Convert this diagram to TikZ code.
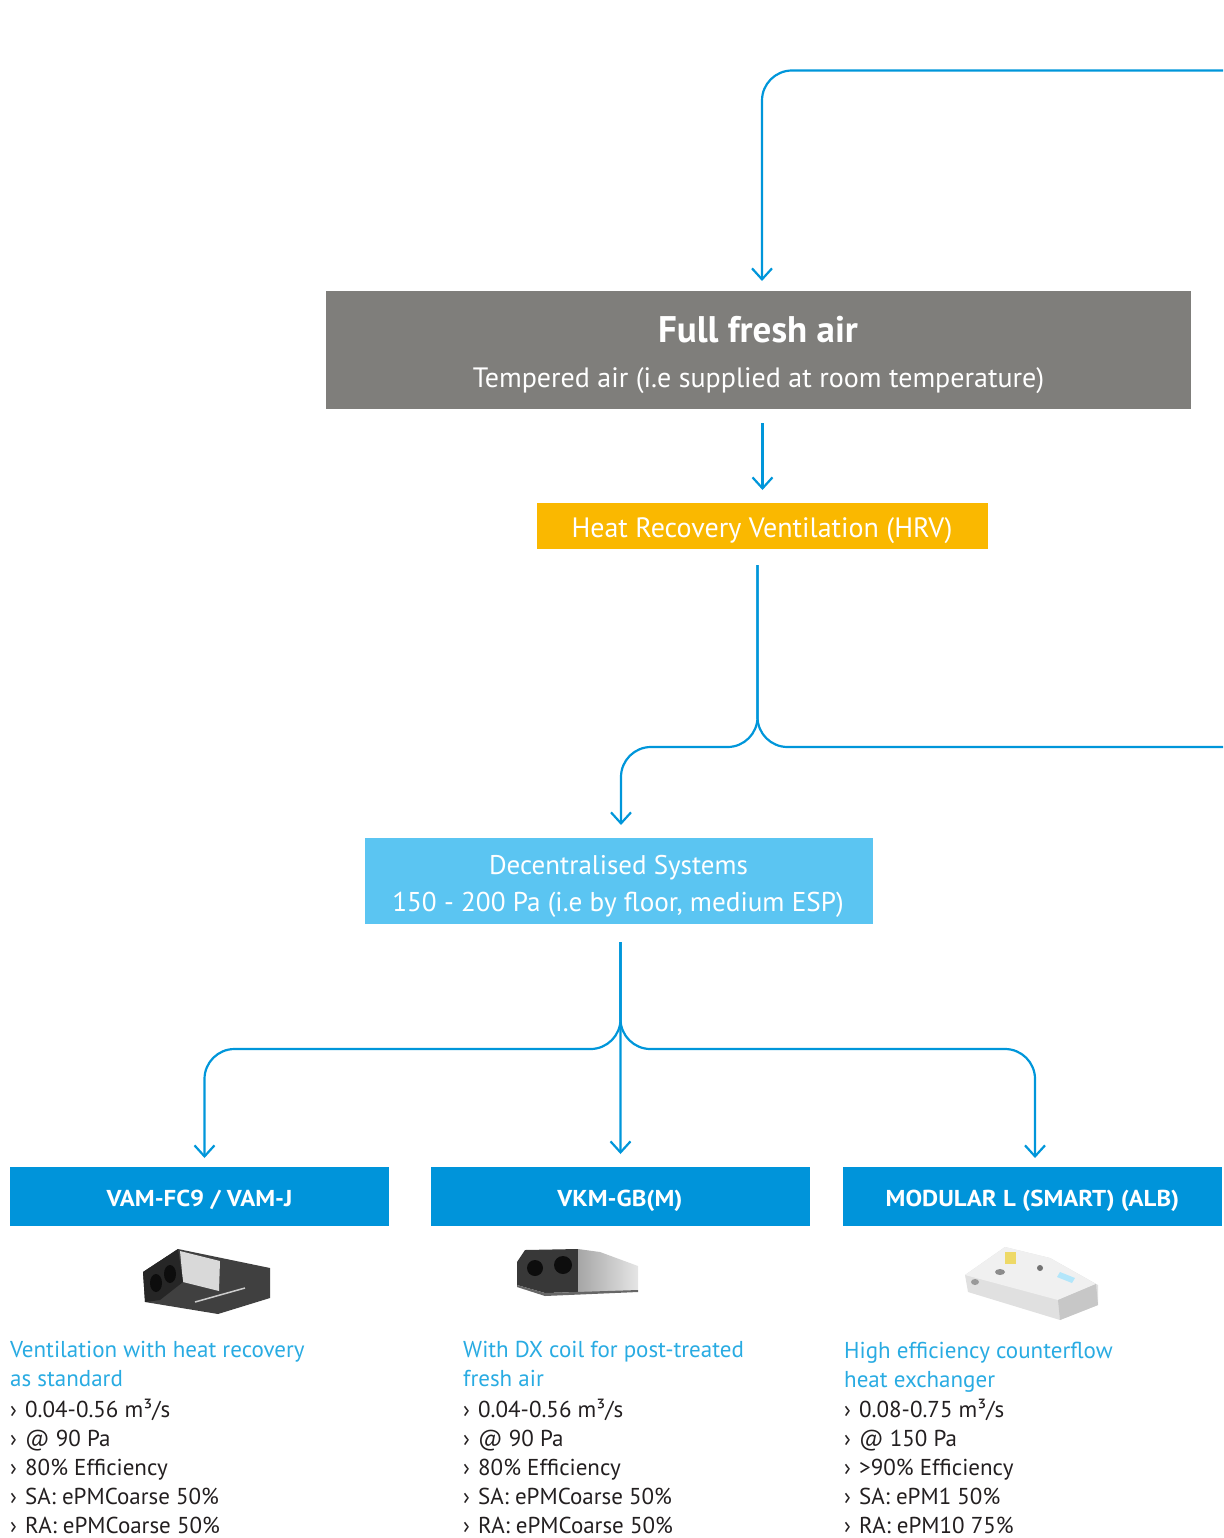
\documentclass[tikz,border=0pt]{standalone}
\usepackage{fontspec}
\setmainfont{PT Sans}
\newfontfamily\headfont[FakeStretch=1.08]{PT Sans Bold}
\usetikzlibrary{arrows.meta,calc}
\definecolor{lineblue}{RGB}{0,150,218}
\definecolor{headblue}{RGB}{0,148,218}
\definecolor{lightblue}{RGB}{91,197,242}
\definecolor{hrvyellow}{RGB}{250,184,0}
\definecolor{boxgray}{RGB}{127,126,123}
\definecolor{descblue}{RGB}{41,171,226}
\definecolor{bodytext}{RGB}{35,31,32}
\newcommand{\fsz}[1]{\fontsize{#1bp}{#1bp}\selectfont}
\newcommand{\bul}{\makebox[15bp][l]{›}}
\begin{document}
\begin{tikzpicture}[x=1bp,y=-1bp,
  lineb/.style={draw=lineblue, line width=2.2bp, rounded corners=30bp},
  conn/.style={lineb, -{Straight Barb[length=11bp,width=20bp]}},
  panel/.style={anchor=north west, inner sep=0pt, outer sep=0pt},
  ttl/.style={anchor=base, text=white, inner sep=0pt},
  head/.style={ttl, font=\headfont\fsz{23}},
  desc/.style={anchor=base west, inner sep=0pt, text=descblue, font=\fsz{23}},
  item/.style={anchor=base west, inner sep=0pt, text=bodytext, font=\fsz{23}}]
\useasboundingbox (0,0) rectangle (1223,1538);
% boxes
\node[panel, fill=boxgray, minimum width=865bp, minimum height=118bp] (gray) at (326,291) {};
\node[panel, fill=hrvyellow, minimum width=451bp, minimum height=46bp] (hrv) at (537,503) {};
\node[panel, fill=lightblue, minimum width=508bp, minimum height=86bp] (dec) at (365,838) {};
\node[panel, fill=headblue, minimum width=379bp, minimum height=59bp] (h1) at (10,1167) {};
\node[panel, fill=headblue, minimum width=379bp, minimum height=59bp] (h2) at (431,1167) {};
\node[panel, fill=headblue, minimum width=379bp, minimum height=59bp] (h3) at (843,1167) {};
% box texts
\node[ttl, font=\bfseries\fsz{37}] (gt1) at (758,342) {Full fresh air};
\node[ttl, font=\fsz{28}] (gt2) at (758.5,387) {Tempered air (i.e supplied at room temperature)};
\node[ttl, font=\fsz{28}] (ht) at (762,537) {Heat Recovery Ventilation (HRV)};
\node[ttl, font=\fsz{27}] (dt1) at (618.5,874) {Decentralised Systems};
\node[ttl, font=\fsz{27.2}] (dt2) at (618,911) {150 - 200 Pa (i.e by floor, medium ESP)};
\node[head] (h1t) at (199.5,1206) {VAM-FC9 / VAM-J};
\node[head] (h2t) at (620,1206) {VKM-GB(M)};
\node[head] (h3t) at (1032.5,1206) {MODULAR L (SMART) (ALB)};
% connectors
\coordinate (in1) at (1223,70.5);
\coordinate (outR) at (1223,747);
\draw[conn] (in1) -| ($(gray.north)+(3.5,-10)$);
\draw[conn] ($(gray.south -| hrv.north)+(0,14)$) -- ($(hrv.north)+(0,-13)$);
\coordinate (hb) at ($(hrv.south)+(-5,16)$);
\draw[lineb] (hb) |- (outR);
\draw[conn] (hb) |- ($(dec.north)+(2,-91)$) -- ($(dec.north)+(2,-13)$);
\coordinate (db) at ($(dec.south)+(1.5,18)$);
\draw[conn] (db) |- ($(h1.north)+(5,-118)$) -- ($(h1.north)+(5,-9)$);
\draw[conn] (db) -- ($(h2.north)+(0,-13)$);
\draw[conn] (db) |- ($(h3.north)+(2.5,-118)$) -- ($(h3.north)+(2.5,-9)$);
% product pictures
% VAM
\fill[black!75] (143,1272) -- (178,1249) -- (270,1268) -- (270,1298) -- (218,1314) -- (145,1302) -- cycle;
\fill[black!15] (180,1251) -- (220,1261) -- (219,1291) -- (183,1282) -- cycle;
\fill[black!85] (143,1272) -- (178,1249) -- (183,1282) -- (160,1300) -- (145,1302) -- cycle;
\fill[black!95] (156,1283) ellipse (6bp and 9bp);
\fill[black!95] (170,1274) ellipse (6bp and 9bp);
\draw[black!20, line width=1.5bp] (195,1302) -- (245,1288);
% VKM
\fill[black!78] (517,1262) -- (525,1250) -- (578,1249) -- (578,1292) -- (545,1293) -- (517,1285) -- cycle;
\shade[left color=black!35, right color=black!10] (578,1249) -- (600,1252) -- (638,1266) -- (638,1290) -- (600,1293) -- (578,1292) -- cycle;
\fill[black!95] (535,1268) circle (8bp);
\fill[black!95] (563,1265) circle (9bp);
\fill[black!60] (517,1285) -- (545,1293) -- (638,1290) -- (638,1292) -- (545,1296) -- (517,1287) -- cycle;
% MODULAR L
\fill[black!12] (965,1275) -- (1005,1247) -- (1050,1258) -- (1098,1285) -- (1098,1305) -- (1060,1320) -- (968,1292) -- cycle;
\fill[black!6] (965,1275) -- (1005,1247) -- (1050,1258) -- (1096,1284) -- (1058,1300) -- cycle;
\fill[black!22] (1058,1300) -- (1096,1284) -- (1098,1305) -- (1060,1320) -- cycle;
\fill[yellow!60!brown!70] (1005,1252) rectangle (1016,1264);
\fill[black!55] (1040,1268) circle (3bp);
\fill[black!45] (1000,1272) ellipse (5bp and 3bp);
\fill[black!40] (975,1282) ellipse (4bp and 3bp);
\fill[cyan!30] (1060,1272) -- (1075,1278) -- (1072,1283) -- (1057,1277) -- cycle;
% column 1
\node[desc] (c1a) at (10,1357) {Ventilation with heat recovery};
\node[desc] (c1b) at (10,1386) {as standard};
\node[item] (c1c) at (10,1417) {\bul 0.04-0.56 m³/s};
\node[item] (c1d) at (10,1446) {\bul @ 90 Pa};
\node[item] (c1e) at (10,1475) {\bul 80\% Efficiency};
\node[item] (c1f) at (10,1504) {\bul SA: ePMCoarse 50\%};
\node[item] (c1g) at (10,1533) {\bul RA: ePMCoarse 50\%};
% column 2
\node[desc] (c2a) at (463,1357) {With DX coil for post-treated};
\node[desc] (c2b) at (463,1386) {fresh air};
\node[item] (c2c) at (463,1417) {\bul 0.04-0.56 m³/s};
\node[item] (c2d) at (463,1446) {\bul @ 90 Pa};
\node[item] (c2e) at (463,1475) {\bul 80\% Efficiency};
\node[item] (c2f) at (463,1504) {\bul SA: ePMCoarse 50\%};
\node[item] (c2g) at (463,1533) {\bul RA: ePMCoarse 50\%};
% column 3
\node[desc] (c3a) at (844,1358) {High efficiency counterflow};
\node[desc] (c3b) at (844,1387) {heat exchanger};
\node[item] (c3c) at (844,1417) {\bul 0.08-0.75 m³/s};
\node[item] (c3d) at (844,1446) {\bul @ 150 Pa};
\node[item] (c3e) at (844,1475) {\bul >90\% Efficiency};
\node[item] (c3f) at (844,1504) {\bul SA: ePM1 50\%};
\node[item] (c3g) at (844,1533) {\bul RA: ePM10 75\%};
\end{tikzpicture}
\end{document}
